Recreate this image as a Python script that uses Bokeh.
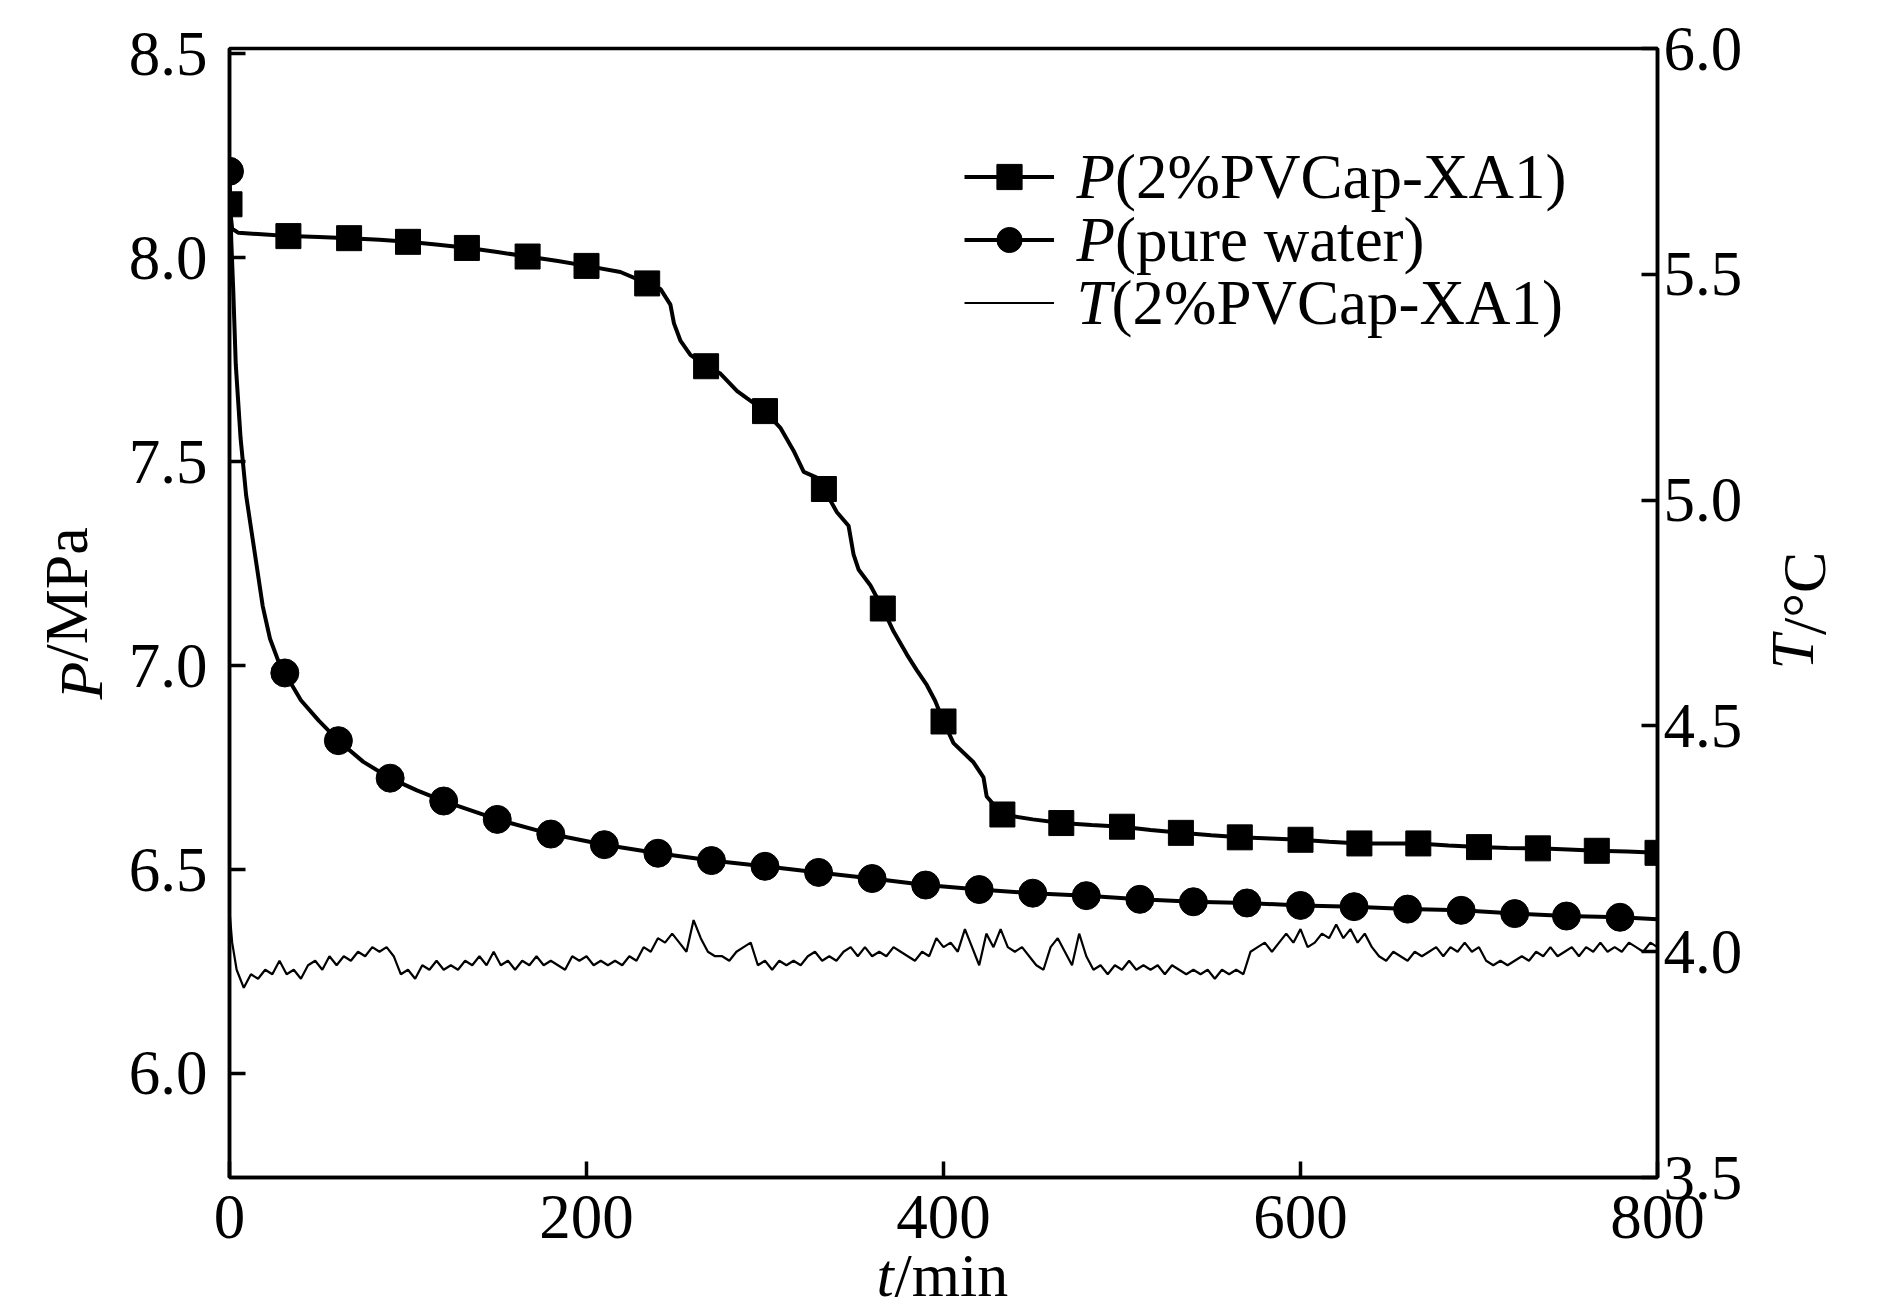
import math
from bokeh.plotting import figure
from bokeh.models import (Range1d, LinearAxis, FixedTicker, Label, Legend,
                          LegendItem, PrintfTickFormatter)
from bokeh.embed import file_html
from bokeh.resources import INLINE

# ---------------- data ----------------
x_ticks = [0, 200, 400, 600, 800]
p_ticks = [6.0, 6.5, 7.0, 7.5, 8.0, 8.5]
t_ticks = [3.5, 4.0, 4.5, 5.0, 5.5, 6.0]

# axis titles: (italic symbol, roman unit)
x_title = ("t", "/min")
p_title = ("P", "/MPa")
t_title = ("T", "/°C")

# P(2%PVCap-XA1): pressure curve
xa1_line_t = [0, 1.5, 5, 20, 34, 50, 67, 84, 100, 117,
              134, 150, 167, 184, 200, 219, 234, 241.5, 247, 249,
              252.7, 258.2, 267, 275, 284.4, 290, 300, 308.6, 316, 321.7,
              329, 333, 340.3, 346.8, 349.6, 352.5, 359, 366, 372, 379.5,
              385, 390.7, 395.3, 400, 405.6, 416.8, 422.4, 424.2, 433, 450,
              466, 483, 500, 516, 533, 550, 566, 583, 600, 616,
              633, 650, 666, 683, 700, 716, 733, 750, 766, 783,
              800]
xa1_line_p = [8.131, 8.071, 8.061, 8.057, 8.053, 8.051, 8.048, 8.044, 8.039, 8.032,
              8.024, 8.014, 8.003, 7.992, 7.980, 7.965, 7.937, 7.923, 7.885, 7.839,
              7.796, 7.762, 7.734, 7.716, 7.673, 7.655, 7.624, 7.583, 7.527, 7.475,
              7.461, 7.433, 7.376, 7.343, 7.273, 7.235, 7.197, 7.140, 7.084, 7.027,
              6.989, 6.952, 6.914, 6.863, 6.810, 6.763, 6.726, 6.679, 6.635, 6.623,
              6.614, 6.609, 6.605, 6.597, 6.590, 6.584, 6.579, 6.576, 6.573, 6.568,
              6.564, 6.564, 6.564, 6.559, 6.555, 6.553, 6.552, 6.549, 6.546, 6.544,
              6.541]
xa1_mark_t = [0, 33, 67, 100, 133, 167, 200, 234, 267, 300, 333, 366, 400,
              433, 466, 500, 533, 566, 600, 633, 666, 700, 733, 766, 800]
xa1_mark_p = [8.131, 8.053, 8.048, 8.039, 8.024, 8.003, 7.980, 7.937, 7.734,
              7.624, 7.433, 7.140, 6.863, 6.635, 6.614, 6.605, 6.590, 6.579,
              6.573, 6.564, 6.564, 6.555, 6.552, 6.546, 6.541]

# P(pure water)
water_line_t = [0, 1.0, 2.1, 3.5, 6.2, 9.3, 12.4, 15.5, 18.6, 22.7,
                27.9, 31, 40, 50, 61, 75, 90, 105, 120, 150,
                180, 210, 240, 270, 300, 330, 360, 390, 420, 450,
                480, 510, 540, 570, 600, 630, 660, 690, 720, 749,
                779, 800]
water_line_p = [8.212, 8.041, 7.920, 7.739, 7.558, 7.418, 7.327, 7.237, 7.146, 7.066,
                7.005, 6.982, 6.915, 6.865, 6.816, 6.764, 6.724, 6.694, 6.668, 6.623,
                6.587, 6.561, 6.540, 6.522, 6.508, 6.493, 6.478, 6.462, 6.451, 6.442,
                6.436, 6.427, 6.421, 6.418, 6.412, 6.409, 6.403, 6.400, 6.392, 6.386,
                6.383, 6.378]
water_mark_t = [0, 31, 61, 90, 120, 150, 180, 210, 240, 270, 300, 330, 360, 390,
                420, 450, 480, 510, 540, 570, 600, 630, 660, 690, 720, 749, 779]
water_mark_p = [8.212, 6.982, 6.816, 6.724, 6.668, 6.623, 6.587, 6.561, 6.540,
                6.522, 6.508, 6.493, 6.478, 6.462, 6.451, 6.442, 6.436, 6.427,
                6.421, 6.418, 6.412, 6.409, 6.403, 6.400, 6.392, 6.386, 6.383]

# T(2%PVCap-XA1): temperature, sampled every 4 min after the start
temp_t = [0, 1.5] + list(range(4, 801, 4))
temp_c = [4.09, 4.02,
          3.96, 3.92, 3.95, 3.94, 3.96, 3.95, 3.98, 3.95, 3.96, 3.94,
          3.97, 3.98, 3.96, 3.99, 3.97, 3.99, 3.98, 4.00, 3.99, 4.01,
          4.00, 4.01, 3.99, 3.95, 3.96, 3.94, 3.97, 3.96, 3.98, 3.96,
          3.97, 3.96, 3.98, 3.97, 3.99, 3.97, 4.00, 3.97, 3.98, 3.96,
          3.98, 3.97, 3.99, 3.97, 3.98, 3.97, 3.96, 3.99, 3.98, 3.99,
          3.97, 3.98, 3.97, 3.98, 3.97, 3.99, 3.98, 4.01, 4.00, 4.03,
          4.02, 4.04, 4.02, 4.00, 4.07, 4.03, 4.00, 3.99, 3.99, 3.98,
          4.00, 4.01, 4.02, 3.97, 3.98, 3.96, 3.98, 3.97, 3.98, 3.97,
          3.99, 4.00, 3.98, 3.99, 3.98, 4.00, 4.01, 3.99, 4.01, 3.99,
          4.00, 3.99, 4.01, 4.00, 3.99, 3.98, 4.00, 3.99, 4.03, 4.01,
          4.02, 4.00, 4.05, 4.01, 3.97, 4.04, 4.01, 4.05, 4.01, 4.00,
          4.01, 3.99, 3.97, 3.96, 4.01, 4.03, 4.00, 3.97, 4.04, 3.99,
          3.96, 3.97, 3.95, 3.97, 3.96, 3.98, 3.96, 3.97, 3.96, 3.97,
          3.95, 3.97, 3.96, 3.95, 3.96, 3.95, 3.96, 3.94, 3.96, 3.95,
          3.96, 3.95, 4.00, 4.01, 4.02, 4.00, 4.02, 4.04, 4.02, 4.05,
          4.01, 4.02, 4.04, 4.03, 4.06, 4.03, 4.05, 4.02, 4.04, 4.01,
          3.99, 3.98, 4.00, 3.99, 3.98, 4.00, 3.99, 4.00, 4.01, 3.99,
          4.01, 4.00, 4.02, 4.00, 4.01, 3.98, 3.97, 3.98, 3.97, 3.98,
          3.99, 3.98, 4.00, 3.99, 4.01, 3.99, 4.00, 4.01, 3.99, 4.01,
          4.00, 4.02, 4.00, 4.01, 4.00, 4.02, 4.01, 4.00, 4.02, 4.01]

legend_rows = [("P", "(2%PVCap-XA1)"), ("P", "(pure water)"), ("T", "(2%PVCap-XA1)")]

# ---------------- figure ----------------
FONT = "Liberation Serif"
ITALIC_W = {"P": 0.611, "T": 0.556, "t": 0.278}

FW, FH = 1428, 1129
p = figure(frame_width=FW, frame_height=FH,
           min_border_left=229, min_border_right=230,
           min_border_top=48, min_border_bottom=138,
           x_range=Range1d(0, 800), y_range=Range1d(5.745, 8.513),
           output_backend="svg", toolbar_location=None)
p.title.visible = False
p.extra_y_ranges = {"T": Range1d(3.5, 6.0)}
p.grid.visible = False
p.outline_line_color = "black"
p.outline_line_width = 3.5
p.background_fill_color = "white"
p.border_fill_color = "white"

p.add_layout(LinearAxis(y_range_name="T"), "right")


def style(ax, ticks, fmt, standoff):
    ax.ticker = FixedTicker(ticks=ticks)
    ax.formatter = PrintfTickFormatter(format=fmt)
    ax.major_tick_in = 16
    ax.major_tick_out = 0
    ax.minor_tick_in = 0
    ax.minor_tick_out = 0
    ax.major_tick_line_width = 3.5
    ax.major_tick_line_color = "black"
    ax.axis_line_width = 3.5
    ax.axis_line_color = "black"
    ax.major_label_text_font = FONT
    ax.major_label_text_font_size = "63px"
    ax.major_label_text_color = "black"
    ax.major_label_standoff = standoff


style(p.below[0], x_ticks, "%d", 18)
style(p.left[0], p_ticks, "%.1f", 22)
style(p.right[0], t_ticks, "%.1f", 6)

r1l = p.line(xa1_line_t, xa1_line_p, line_color="black", line_width=4)
r1m = p.scatter(xa1_mark_t, xa1_mark_p, marker="square", size=25,
                fill_color="black", line_color="black")
r2l = p.line(water_line_t, water_line_p, line_color="black", line_width=4)
r2m = p.scatter(water_mark_t, water_mark_p, marker="circle", size=28,
                fill_color="black", line_color="black")
r3 = p.line(temp_t, temp_c, y_range_name="T", line_color="black", line_width=2.2)

# legend: glyph samples from Bokeh, text drawn as labels (italic symbol)
LEG_X, LEG_Y, GW, GH = 735, 843.5, 90, 63
legend = Legend(items=[LegendItem(label=" ", renderers=[r1l, r1m]),
                       LegendItem(label=" ", renderers=[r2l, r2m]),
                       LegendItem(label=" ", renderers=[r3])],
                location=(LEG_X, LEG_Y), orientation="vertical",
                glyph_width=GW, glyph_height=GH, label_height=GH, label_width=1,
                label_standoff=0, padding=0, spacing=0, margin=0,
                border_line_alpha=0, background_fill_alpha=0,
                label_text_font_size="8px")
p.add_layout(legend)

LFS = 63
for i, (sym, rest) in enumerate(legend_rows):
    yc = LEG_Y + GH * (2.5 - i)
    x0 = LEG_X + GW + 22
    p.add_layout(Label(x=x0, y=yc, x_units="screen", y_units="screen", text=sym,
                       text_font=FONT, text_font_style="italic",
                       text_font_size=f"{LFS}px", text_baseline="middle",
                       text_align="left", text_color="black"))
    p.add_layout(Label(x=x0 + ITALIC_W[sym] * LFS, y=yc, x_units="screen",
                       y_units="screen", text=rest, text_font=FONT,
                       text_font_size=f"{LFS}px", text_baseline="middle",
                       text_align="left", text_color="black"))

# axis titles as labels placed in the side panels (not clipped by the frame)
AFS = 62


def title_label(text, italic, x, y, angle, baseline):
    return Label(x=x, y=y, x_units="screen", y_units="screen", text=text,
                 angle=angle, text_font=FONT,
                 text_font_style="italic" if italic else "normal",
                 text_font_size=f"{AFS}px", text_baseline=baseline,
                 text_align="left", text_color="black")


V = math.pi / 2
# P/MPa (left of the frame, reading upwards)
p.add_layout(title_label(p_title[0], True, -149, -651, V, "middle"), "above")
p.add_layout(title_label(p_title[1], False, 8, 516, V, "middle"), "left")
# t/min (below the frame)
p.add_layout(title_label(x_title[0], True, 836, -97, 0, "alphabetic"), "left")
p.add_layout(title_label(x_title[1], False, 665, 34, 0, "alphabetic"), "below")
# T/°C (right of the frame, reading upwards)
p.add_layout(title_label(t_title[0], True, 46, 508, V, "middle"), "right")
p.add_layout(title_label(t_title[1], False, -10, 508 + ITALIC_W["T"] * AFS, V, "middle"), "right")

open("out.html", "w").write(file_html(p, INLINE))
